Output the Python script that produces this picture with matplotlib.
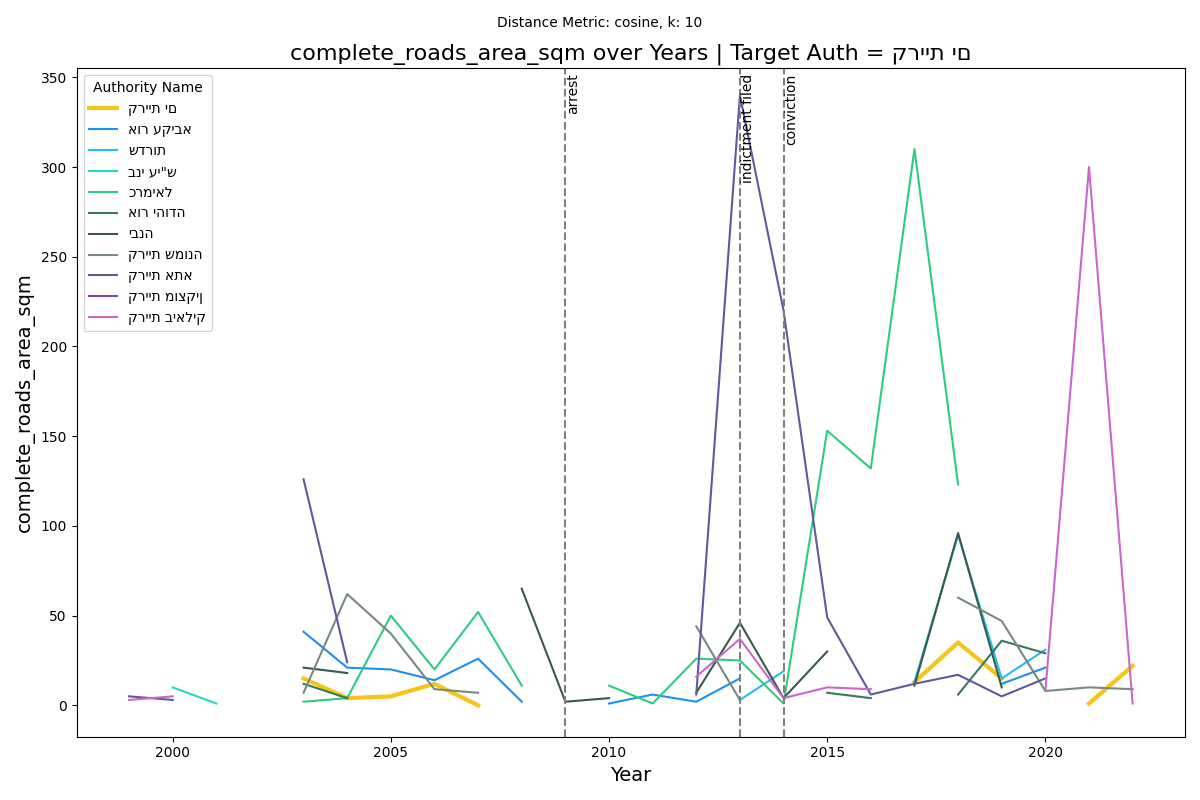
import numpy as np
import matplotlib
matplotlib.use("Agg")
import matplotlib.pyplot as plt

years = list(range(1999, 2023))
n = np.nan
def S(d):
    return [d.get(y, n) for y in years]

names = ["קריית ים", "אור עקיבא", "שדרות", "בני עי\"ש", "כרמיאל", "אור יהודה", "יבנה",
         "קריית שמונה", "קריית אתא", "קריית מוצקין", "קריית ביאליק"]
colors = ["#f5c518", "#1e90f0", "#1ec0f0", "#20dcc0", "#2ecc80", "#3a7a5a", "#3a5a4c",
          "#7a8a80", "#6058a0", "#7a44b0", "#cc66cc"]

kiryat_yam = S({2003: 15, 2004: 4, 2005: 5, 2006: 12, 2007: 0, 2017: 13, 2018: 35, 2019: 15, 2021: 1, 2022: 22})
or_akiva = S({2003: 41, 2004: 21, 2005: 20, 2006: 14, 2007: 26, 2008: 2, 2010: 1, 2011: 6, 2012: 2, 2013: 15, 2019: 12, 2020: 21})
sderot = S({2013: 3, 2014: 19, 2017: 13, 2018: 95, 2019: 15, 2020: 31})
bnei_ayish = S({2000: 10, 2001: 1})
karmiel = S({2003: 2, 2004: 4, 2005: 50, 2006: 20, 2007: 52, 2008: 11, 2010: 11, 2011: 1, 2012: 26, 2013: 25,
             2014: 1, 2015: 153, 2016: 132, 2017: 310, 2018: 123})
or_yehuda = S({2003: 12, 2004: 4, 2015: 7, 2016: 4, 2018: 6, 2019: 36, 2020: 29})
yavne = S({2003: 21, 2004: 18, 2008: 65, 2009: 2, 2010: 4, 2012: 7, 2013: 46, 2014: 4, 2015: 30, 2017: 11, 2018: 96, 2019: 10})
kiryat_shmona = S({2003: 7, 2004: 62, 2005: 40, 2006: 9, 2007: 7, 2012: 44, 2013: 3, 2018: 60, 2019: 47, 2020: 8, 2021: 10, 2022: 9})
kiryat_ata = S({1999: 5, 2000: 3, 2003: 126, 2004: 24, 2012: 6, 2013: 340, 2014: 220, 2015: 49, 2016: 6, 2017: 12,
                2018: 17, 2019: 5, 2020: 15})
kiryat_motzkin = S({})
kiryat_bialik = S({1999: 3, 2000: 5, 2012: 16, 2013: 37, 2014: 4, 2015: 10, 2016: 9, 2020: 8, 2021: 300, 2022: 1})

series = [kiryat_yam, or_akiva, sderot, bnei_ayish, karmiel, or_yehuda, yavne,
          kiryat_shmona, kiryat_ata, kiryat_motzkin, kiryat_bialik]

events = [(2009, "arrest"), (2013, "indictment filed"), (2014, "conviction")]

plt.rcParams['font.family'] = ['DejaVu Sans', 'Noto Sans']
fig, ax = plt.subplots(figsize=(12, 8), dpi=100)
for i, (nm, s, c) in enumerate(zip(names, series, colors)):
    ax.plot(years, s, color=c, lw=3 if i == 0 else 1.5, label=nm)
for x, lbl in events:
    ax.axvline(x, color="gray", ls="--", lw=1.5)
    ax.text(x + 0.02, 352, lbl, rotation=90, va="top", ha="left", fontsize=10)
ax.set_xlim(1997.8, 2023.2)
ax.set_ylim(-17.5, 355)
ax.set_xticks([2000, 2005, 2010, 2015, 2020])
ax.set_xlabel("Year", fontsize=14)
ax.set_ylabel("complete_roads_area_sqm", fontsize=14)
ax.set_title("complete_roads_area_sqm over Years | Target Auth = קריית ים", fontsize=16)
fig.suptitle("Distance Metric: cosine, k: 10", fontsize=10)
ax.legend(title="Authority Name", loc="upper left")
fig.tight_layout()
fig.savefig("out.png")
